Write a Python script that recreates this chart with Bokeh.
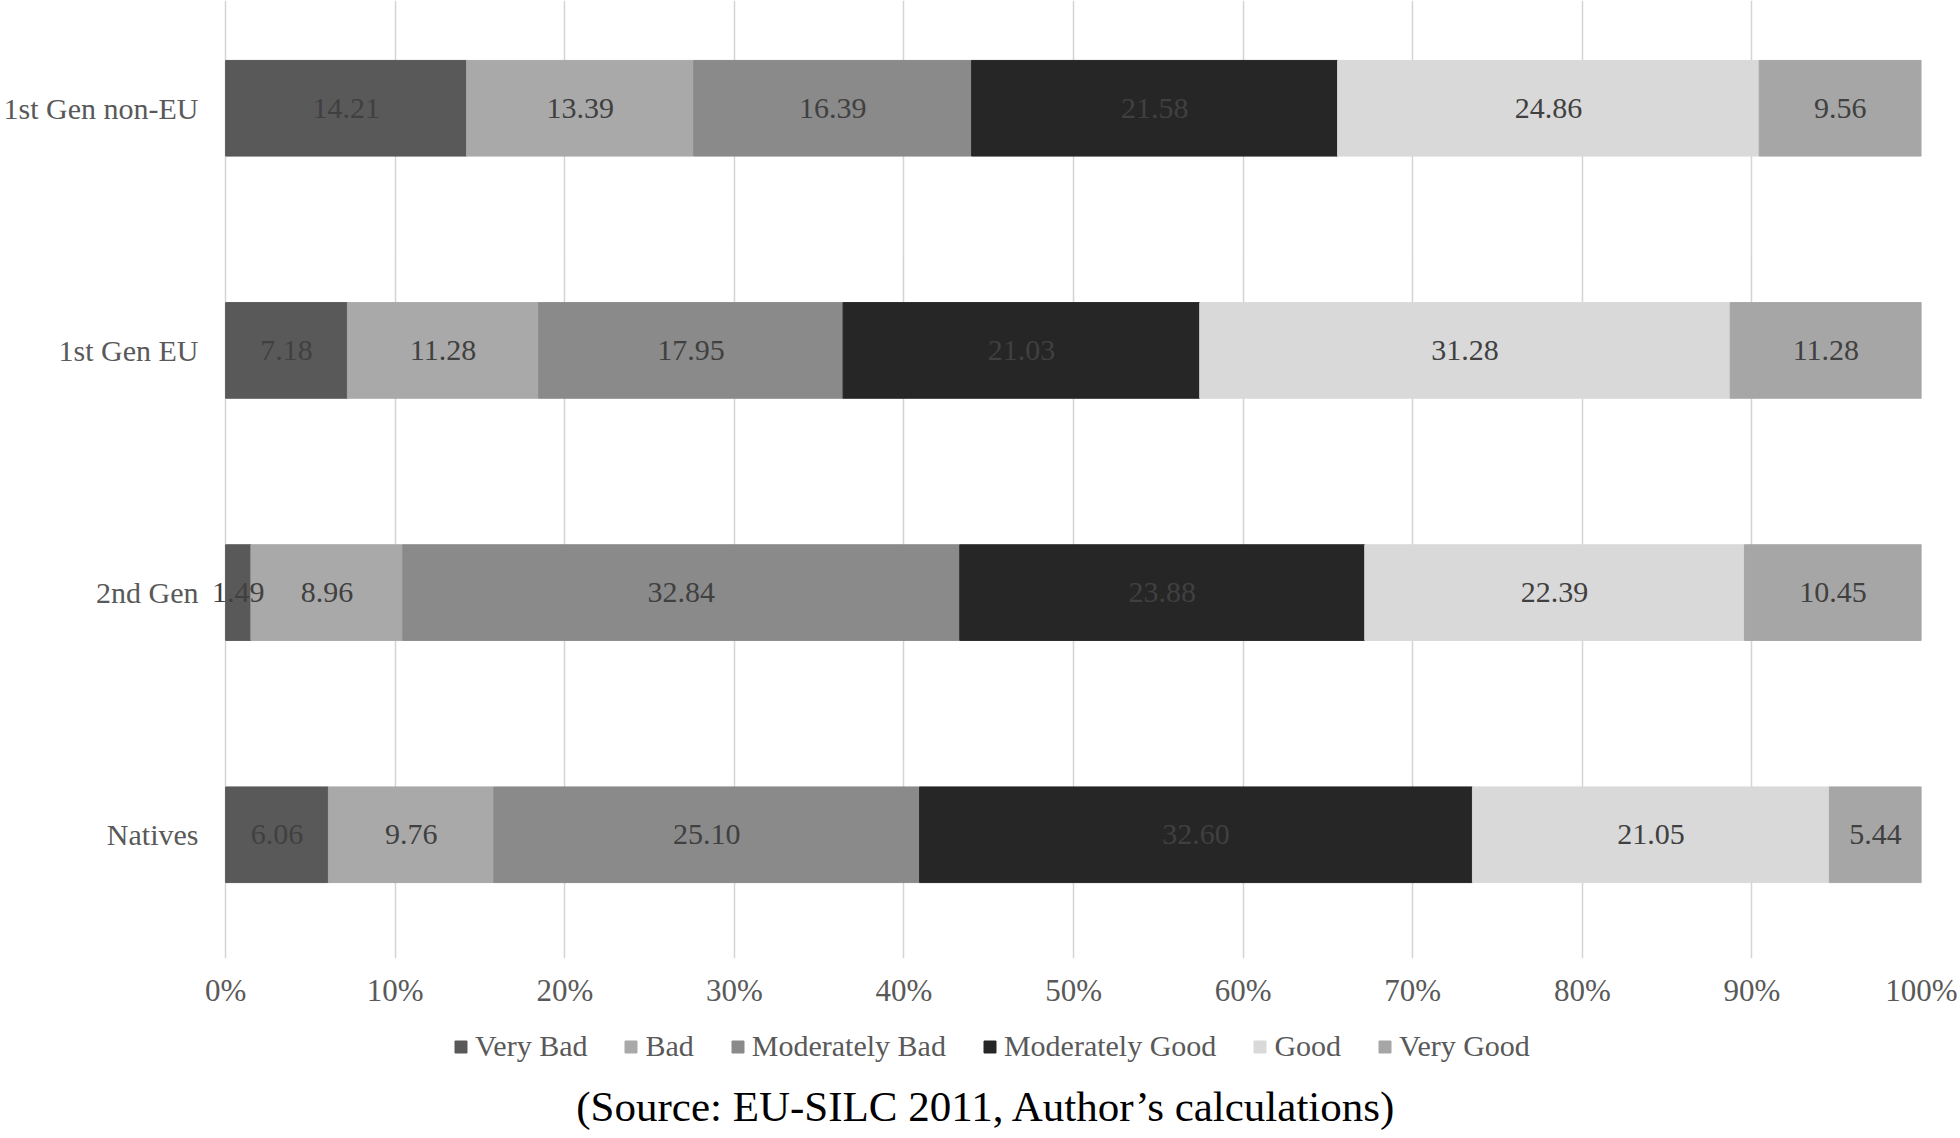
import numpy as np
from bokeh.plotting import figure
from bokeh.layouts import column
from bokeh.models import Range1d, FixedTicker, Legend, LegendItem, Label, LabelSet, ColumnDataSource
from bokeh.embed import file_html
from bokeh.resources import INLINE
from bokeh.core.properties import value

# ---- data ----
groups = ["Natives", "2nd Gen", "1st Gen EU", "1st Gen non-EU"]
categories = ["Very Bad", "Bad", "Moderately Bad", "Moderately Good", "Good", "Very Good"]
very_bad = [6.06, 1.49, 7.18, 14.21]
bad = [9.76, 8.96, 11.28, 13.39]
moderately_bad = [25.10, 32.84, 17.95, 16.39]
moderately_good = [32.60, 23.88, 21.03, 21.58]
good = [21.05, 22.39, 31.28, 24.86]
very_good = [5.44, 10.45, 11.28, 9.56]
x_ticks = [0, 10, 20, 30, 40, 50, 60, 70, 80, 90, 100]
x_tick_labels = ["0%", "10%", "20%", "30%", "40%", "50%", "60%", "70%", "80%", "90%", "100%"]
source_note = "(Source: EU-SILC 2011, Author\u2019s calculations)"

series = [very_bad, bad, moderately_bad, moderately_good, good, very_good]
colors = ["#595959", "#a9a9a9", "#8a8a8a", "#262626", "#d9d9d9", "#a6a6a6"]

FONT = "Liberation Serif"
W = 1960

p = figure(width=W, height=1010, output_backend="svg", toolbar_location=None,
           x_range=Range1d(-1.6, 100), y_range=Range1d(-0.511, 3.445),
           min_border_left=197, min_border_right=39, min_border_top=0, min_border_bottom=50)
p.outline_line_color = None
p.background_fill_color = "white"

# strip below the chart holding the legend and the source note
p2 = figure(width=W, height=128, output_backend="svg", toolbar_location=None,
            x_range=Range1d(0, 1), y_range=Range1d(100, 101),
            x_axis_location=None, y_axis_location=None,
            min_border_left=0, min_border_right=0, min_border_top=0, min_border_bottom=0)
p2.outline_line_color = None
p2.xgrid.grid_line_color = None
p2.ygrid.grid_line_color = None

ypos = np.arange(len(groups))
left = np.zeros(len(groups))
items = []
for name, vals, col in zip(categories, series, colors):
    vals = np.array(vals, dtype=float)
    right = left + vals
    src = ColumnDataSource(dict(y=ypos, left=left, right=right,
                                mid=(left + right) / 2,
                                lab=["%.2f" % v for v in vals]))
    p.hbar(y="y", left="left", right="right", height=0.395, source=src,
           fill_color=col, line_color=col, line_width=1)
    p.add_layout(LabelSet(x="mid", y="y", text="lab", source=src, text_align="center",
                          text_baseline="middle", text_font=value(FONT), text_font_size="30px",
                          text_color="#404040"))
    # same bars in the strip (outside its visible range) only to feed the legend glyphs
    r2 = p2.hbar(y="y", left="left", right="right", height=0.395, source=src,
                 fill_color=col, line_color=col, line_width=1)
    items.append(LegendItem(label=name, renderers=[r2]))
    left = right

# grid
p.ygrid.grid_line_color = None
p.xgrid.grid_line_color = "#d4d4d4"
p.xgrid.grid_line_width = 1.5
p.xgrid.ticker = FixedTicker(ticks=x_ticks)

# x axis
p.xaxis.ticker = FixedTicker(ticks=x_ticks)
p.xaxis.major_label_overrides = {t: l for t, l in zip(x_ticks, x_tick_labels)}
p.xaxis.axis_line_color = None
p.xaxis.major_tick_line_color = None
p.xaxis.minor_tick_line_color = None
p.xaxis.major_tick_out = 0
p.xaxis.major_label_standoff = 14
p.xaxis.major_label_text_font = FONT
p.xaxis.major_label_text_font_size = "31px"
p.xaxis.major_label_text_color = "#595959"

# y axis
p.yaxis.ticker = FixedTicker(ticks=list(ypos))
p.yaxis.major_label_overrides = {int(i): g for i, g in zip(ypos, groups)}
p.yaxis.axis_line_color = None
p.yaxis.major_tick_line_color = None
p.yaxis.minor_tick_line_color = None
p.yaxis.major_tick_out = 0
p.yaxis.major_label_standoff = 0
p.yaxis.major_label_text_font = FONT
p.yaxis.major_label_text_font_size = "30px"
p.yaxis.major_label_text_color = "#595959"

legend = Legend(items=items, orientation="horizontal", location=(255, 75),
                glyph_width=15, glyph_height=15, label_standoff=7, spacing=36,
                padding=0, margin=0, border_line_color=None, background_fill_alpha=0,
                label_text_font=FONT, label_text_font_size="30px", label_text_color="#595959")
p2.add_layout(legend, "center")

note = Label(x=788, y=32, x_units="screen", y_units="screen", text=source_note,
             text_align="center", text_baseline="middle", text_font=FONT,
             text_font_size="43px", text_color="#000000")
p2.add_layout(note)

layout = column(p, p2, spacing=0)
open("out.html", "w").write(file_html(layout, INLINE))
